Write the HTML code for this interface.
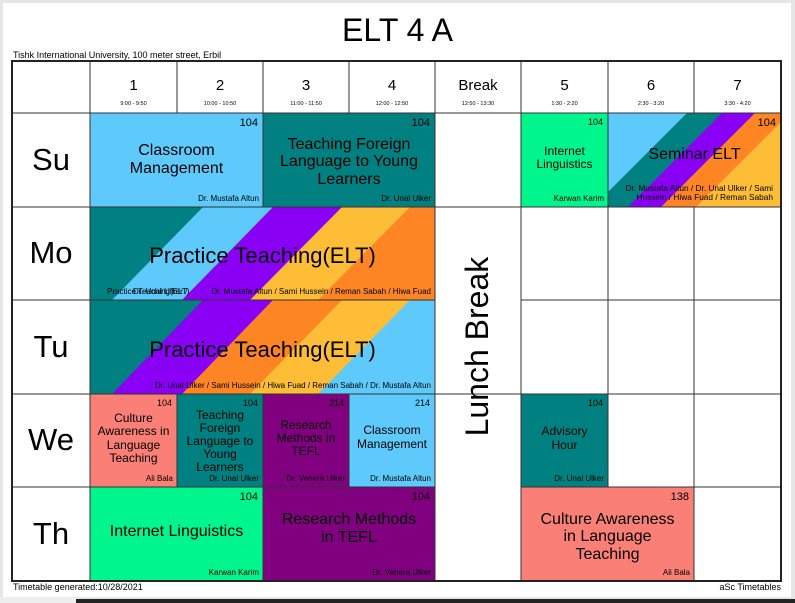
<!DOCTYPE html>
<html><head><meta charset="utf-8"><style>
body{margin:0;width:795px;height:603px;background:#e6e6e6;position:relative;overflow:hidden;font-family:"Liberation Sans",sans-serif;color:#000}
.page{position:absolute;left:3px;top:3px;width:788px;height:594px;background:#fff}
.a{position:absolute;box-sizing:border-box}
.c{display:flex;align-items:center;justify-content:center;text-align:center;line-height:1.1}
.rm{position:absolute;right:5px;top:4px;font-size:11px}
.tc{position:absolute;right:4px;bottom:4px;font-size:8px;white-space:nowrap}
.day{font-size:31px}
.hn{position:absolute;left:0;right:0;top:16px;text-align:center;font-size:15px}
.ht{position:absolute;left:0;right:0;top:40px;text-align:center;font-size:5.5px}
</style></head><body>
<div class="page"></div>
<div class="a" style="left:0;top:597px;width:76px;height:6px;background:#eee"></div>
<div class="a" style="left:76px;top:599px;width:719px;height:4px;background:#222"></div>
<div class="a" style="left:0;top:12px;width:795px;text-align:center;font-size:32px">ELT 4 A</div>
<div class="a" style="left:13px;top:50px;font-size:9px">Tishk International University, 100 meter street, Erbil</div>
<div class="a" style="left:13px;top:582px;font-size:9px">Timetable generated:10/28/2021</div>
<div class="a" style="right:14px;top:582px;font-size:9px">aSc Timetables</div>

<div class="a" style="left:90px;top:113px;width:173px;height:94px;background:#5ec9fb"></div>
<div class="a" style="left:263px;top:113px;width:172px;height:94px;background:#008080"></div>
<div class="a" style="left:521px;top:113px;width:87px;height:94px;background:#00f58c"></div>
<div class="a" style="left:90px;top:394px;width:87px;height:93px;background:#fa8077"></div>
<div class="a" style="left:177px;top:394px;width:86px;height:93px;background:#008080"></div>
<div class="a" style="left:263px;top:394px;width:86px;height:93px;background:#800080"></div>
<div class="a" style="left:349px;top:394px;width:86px;height:93px;background:#5ec9fb"></div>
<div class="a" style="left:521px;top:394px;width:87px;height:93px;background:#008080"></div>
<div class="a" style="left:90px;top:487px;width:173px;height:94px;background:#00f58c"></div>
<div class="a" style="left:263px;top:487px;width:172px;height:94px;background:#800080"></div>
<div class="a" style="left:521px;top:487px;width:173px;height:94px;background:#fa8077"></div>

<svg class="a" style="left:0;top:0" width="795" height="603">
<defs>
<clipPath id="mo"><rect x="90" y="207" width="345" height="93"/></clipPath>
<clipPath id="tu"><rect x="90" y="300" width="345" height="94"/></clipPath>
<clipPath id="se"><rect x="608" y="113" width="173" height="94"/></clipPath>
</defs>
<g clip-path="url(#mo)">
<rect x="90" y="207" width="345" height="93" fill="#fd8524"/>
<polygon points="0,207 410,207 318,300 0,300" fill="#fdbd36"/>
<polygon points="0,207 342,207 250,300 0,300" fill="#8a00f5"/>
<polygon points="0,207 273,207 182,300 0,300" fill="#5ec9fb"/>
<polygon points="0,207 203,207 112,300 0,300" fill="#008080"/>
</g>
<g clip-path="url(#tu)">
<rect x="90" y="300" width="345" height="94" fill="#5ec9fb"/>
<polygon points="0,300 410,300 318,394 0,394" fill="#fdbd36"/>
<polygon points="0,300 342,300 250,394 0,394" fill="#fd8524"/>
<polygon points="0,300 273,300 182,394 0,394" fill="#8a00f5"/>
<polygon points="0,300 203,300 112,394 0,394" fill="#008080"/>
</g>
<g clip-path="url(#se)">
<rect x="608" y="113" width="173" height="94" fill="#fdbd36"/>
<polygon points="500,113 790,113 696,207 500,207" fill="#fd8524"/>
<polygon points="500,113 755,113 661,207 500,207" fill="#8a00f5"/>
<polygon points="500,113 722,113 628,207 500,207" fill="#008080"/>
<polygon points="500,113 687,113 593,207 500,207" fill="#5ec9fb"/>
</g>
<g stroke="#333" stroke-width="1" fill="none">
<line x1="12" y1="113" x2="781" y2="113"/>
<line x1="12" y1="207" x2="781" y2="207"/>
<line x1="12" y1="300" x2="90" y2="300"/><line x1="521" y1="300" x2="781" y2="300"/>
<line x1="90" y1="300" x2="435" y2="300"/>
<line x1="12" y1="394" x2="781" y2="394"/>
<line x1="12" y1="487" x2="435" y2="487"/><line x1="521" y1="487" x2="781" y2="487"/>
<line x1="90" y1="61" x2="90" y2="581"/>
<line x1="177" y1="61" x2="177" y2="113"/><line x1="177" y1="394" x2="177" y2="487"/>
<line x1="263" y1="61" x2="263" y2="207"/><line x1="263" y1="394" x2="263" y2="581"/>
<line x1="349" y1="61" x2="349" y2="113"/><line x1="349" y1="394" x2="349" y2="487"/>
<line x1="435" y1="61" x2="435" y2="581"/>
<line x1="521" y1="61" x2="521" y2="581"/>
<line x1="608" y1="61" x2="608" y2="487"/>
<line x1="694" y1="61" x2="694" y2="113"/><line x1="694" y1="207" x2="694" y2="581"/>
<rect x="12" y="61" width="769" height="520" stroke-width="2" stroke="#222"/>
</g>
</svg>

<div class="a" style="left:90px;top:61px;width:87px;height:52px"><div class="hn">1</div><div class="ht">9:00 - 9:50</div></div>
<div class="a" style="left:177px;top:61px;width:86px;height:52px"><div class="hn">2</div><div class="ht">10:00 - 10:50</div></div>
<div class="a" style="left:263px;top:61px;width:86px;height:52px"><div class="hn">3</div><div class="ht">11:00 - 11:50</div></div>
<div class="a" style="left:349px;top:61px;width:86px;height:52px"><div class="hn">4</div><div class="ht">12:00 - 12:50</div></div>
<div class="a" style="left:435px;top:61px;width:86px;height:52px"><div class="hn">Break</div><div class="ht">12:50 - 13:30</div></div>
<div class="a" style="left:521px;top:61px;width:87px;height:52px"><div class="hn">5</div><div class="ht">1:30 - 2:20</div></div>
<div class="a" style="left:608px;top:61px;width:86px;height:52px"><div class="hn">6</div><div class="ht">2:30 - 3:20</div></div>
<div class="a" style="left:694px;top:61px;width:87px;height:52px"><div class="hn">7</div><div class="ht">3:30 - 4:20</div></div>

<div class="a c day" style="left:12px;top:113px;width:78px;height:94px">Su</div>
<div class="a c day" style="left:12px;top:207px;width:78px;height:93px">Mo</div>
<div class="a c day" style="left:12px;top:300px;width:78px;height:94px">Tu</div>
<div class="a c day" style="left:12px;top:394px;width:78px;height:93px">We</div>
<div class="a c day" style="left:12px;top:487px;width:78px;height:94px">Th</div>

<div class="a c" style="left:435px;top:207px;width:86px;height:280px"><div style="transform:rotate(-90deg);font-size:32px;white-space:nowrap">Lunch Break</div></div>

<div class="a" style="left:90px;top:113px;width:173px;height:94px"><div class="rm">104</div><div class="a c" style="left:0;right:0;top:12px;bottom:12px;font-size:16px">Classroom<br>Management</div><div class="tc">Dr. Mustafa Altun</div></div>
<div class="a" style="left:263px;top:113px;width:172px;height:94px"><div class="rm">104</div><div class="a c" style="left:0;right:0;top:14px;bottom:10px;font-size:16px">Teaching Foreign<br>Language to Young<br>Learners</div><div class="tc">Dr. Unal Ulker</div></div>
<div class="a" style="left:521px;top:113px;width:87px;height:94px"><div class="rm" style="font-size:9px">104</div><div class="a c" style="left:0;right:0;top:10px;bottom:14px;font-size:12px">Internet<br>Linguistics</div><div class="tc">Karwan Karim</div></div>
<div class="a" style="left:608px;top:113px;width:173px;height:94px"><div class="rm">104</div><div class="a c" style="left:0;right:0;top:10px;bottom:20px;font-size:16px">Seminar ELT</div><div class="tc" style="text-align:right;line-height:1.15;right:8px;font-size:8.3px">Dr. Mustafa Altun / Dr. Unal Ulker / Sami<br>Hussein / Hiwa Fuad / Reman Sabah</div></div>

<div class="a" style="left:90px;top:207px;width:345px;height:93px"><div class="a c" style="left:0;right:0;top:20px;bottom:14px;font-size:22px">Practice Teaching(ELT)</div>
<div class="tc">Dr. Mustafa Altun / Sami Hussein / Reman Sabah / Hiwa Fuad</div>
<div class="a" style="left:17px;bottom:4px;font-size:8px;white-space:nowrap">Practice Teaching(ELT)</div>
<div class="a" style="left:43px;bottom:4px;font-size:8px;white-space:nowrap">Dr. Unal Ulker /</div></div>
<div class="a" style="left:90px;top:300px;width:345px;height:94px"><div class="a c" style="left:0;right:0;top:20px;bottom:14px;font-size:22px">Practice Teaching(ELT)</div><div class="tc">Dr. Unal Ulker / Sami Hussein / Hiwa Fuad / Reman Sabah / Dr. Mustafa Altun</div></div>

<div class="a" style="left:90px;top:394px;width:87px;height:93px"><div class="rm" style="font-size:9px">104</div><div class="a c" style="left:0;right:0;top:10px;bottom:14px;font-size:12px">Culture<br>Awareness in<br>Language<br>Teaching</div><div class="tc">Ali Bala</div></div>
<div class="a" style="left:177px;top:394px;width:86px;height:93px"><div class="rm" style="font-size:9px">104</div><div class="a c" style="left:0;right:0;top:4px;bottom:2px;font-size:12px">Teaching<br>Foreign<br>Language to<br>Young<br>Learners</div><div class="tc">Dr. Unal Ulker</div></div>
<div class="a" style="left:263px;top:394px;width:86px;height:93px"><div class="rm" style="font-size:9px">214</div><div class="a c" style="left:0;right:0;top:12px;bottom:16px;font-size:12px">Research<br>Methods in<br>TEFL</div><div class="tc">Dr. Venera Ulker</div></div>
<div class="a" style="left:349px;top:394px;width:86px;height:93px"><div class="rm" style="font-size:9px">214</div><div class="a c" style="left:0;right:0;top:8px;bottom:14px;font-size:12px">Classroom<br>Management</div><div class="tc">Dr. Mustafa Altun</div></div>
<div class="a" style="left:521px;top:394px;width:87px;height:93px"><div class="rm" style="font-size:9px">104</div><div class="a c" style="left:0;right:0;top:10px;bottom:14px;font-size:12px">Advisory<br>Hour</div><div class="tc">Dr. Unal Ulker</div></div>

<div class="a" style="left:90px;top:487px;width:173px;height:94px"><div class="rm">104</div><div class="a c" style="left:0;right:0;top:10px;bottom:14px;font-size:16px">Internet Linguistics</div><div class="tc">Karwan Karim</div></div>
<div class="a" style="left:263px;top:487px;width:172px;height:94px"><div class="rm">104</div><div class="a c" style="left:0;right:0;top:8px;bottom:18px;font-size:16px">Research Methods<br>in TEFL</div><div class="tc">Dr. Venera Ulker</div></div>
<div class="a" style="left:521px;top:487px;width:173px;height:94px"><div class="rm">138</div><div class="a c" style="left:0;right:0;top:16px;bottom:10px;font-size:16px">Culture Awareness<br>in Language<br>Teaching</div><div class="tc">Ali Bala</div></div>
</body></html>
